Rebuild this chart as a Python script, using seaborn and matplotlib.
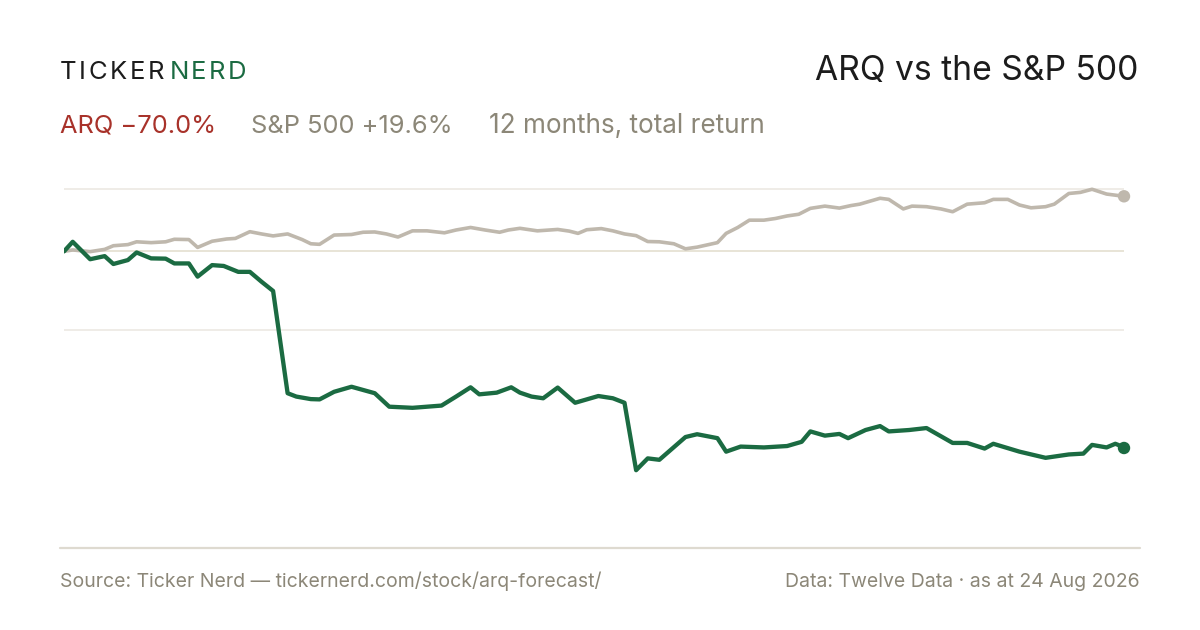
import matplotlib
matplotlib.use("Agg")
import matplotlib.pyplot as plt
from matplotlib.lines import Line2D
import numpy as np
import pandas as pd
import seaborn as sns

# 12 month total return, % change from the start date
start_date = pd.Timestamp("2025-08-24")
end_date = pd.Timestamp("2026-08-24")

arq_days = [0, 3, 9, 14, 17, 22, 25, 30, 35, 38,
            43, 46, 51, 55, 60, 64, 68, 72, 77, 80,
            85, 88, 93, 99, 107, 112, 120, 130, 135, 140,
            143, 149, 154, 157, 161, 165, 170, 176, 184, 189,
            193, 197, 201, 205, 214, 218, 225, 228, 233, 241,
            249, 254, 257, 262, 267, 270, 276, 281, 284, 291,
            297, 306, 311, 317, 320, 329, 338, 346, 351, 354,
            359, 362, 363, 365]
arq_return = [0, 3.4, -2.8, -1.7, -4.5, -3.1, -0.4, -2.5, -2.6, -4.3,
              -4.3, -9.0, -4.9, -5.2, -7.3, -7.3, -10.8, -14.1, -50.5, -51.7,
              -52.6, -52.7, -50.0, -48.2, -50.5, -55.3, -55.7, -54.9, -51.7, -48.4,
              -50.9, -50.3, -48.4, -50.3, -51.7, -52.3, -48.5, -53.9, -51.5, -52.3,
              -53.9, -77.9, -73.7, -74.2, -66.1, -65.1, -66.5, -71.3, -69.5, -69.8,
              -69.3, -67.8, -64.1, -65.6, -65.0, -66.5, -63.6, -62.2, -64.1, -63.6,
              -62.9, -68.2, -68.2, -70.2, -68.5, -71.3, -73.5, -72.3, -72.0, -68.9,
              -69.8, -68.5, -68.9, -70.0]

spx_days = [0, 3, 9, 14, 17, 22, 25, 30, 35, 38,
            43, 46, 51, 56, 59, 64, 68, 72, 77, 82,
            85, 88, 93, 99, 103, 107, 111, 115, 120, 125,
            131, 135, 140, 145, 150, 153, 157, 163, 170, 174,
            177, 180, 185, 189, 193, 197, 201, 205, 210, 214,
            218, 225, 228, 232, 236, 241, 245, 249, 253, 257,
            262, 267, 271, 274, 281, 284, 289, 292, 297, 302,
            306, 311, 317, 320, 325, 329, 333, 338, 341, 346,
            350, 354, 359, 365]
spx_return = [0, 0.5, -0.1, 0.7, 2.0, 2.4, 3.4, 3.1, 3.4, 4.3,
              4.2, 1.4, 3.6, 4.4, 4.6, 7.0, 6.2, 5.5, 6.2, 4.2,
              2.7, 2.5, 5.8, 6.0, 6.8, 6.9, 6.2, 5.1, 7.3, 7.3,
              6.6, 7.6, 8.5, 7.6, 6.8, 7.6, 8.2, 7.3, 7.8, 7.2,
              6.4, 7.7, 8.1, 7.3, 6.2, 5.6, 3.5, 3.4, 2.7, 0.9,
              1.5, 3.1, 6.4, 8.5, 11.1, 11.1, 11.7, 12.6, 13.2, 15.3,
              16.1, 15.4, 16.3, 16.8, 18.9, 18.5, 15.1, 16.1, 15.9, 15.1,
              14.1, 16.8, 17.3, 18.5, 18.5, 16.5, 15.5, 15.9, 16.8, 20.6,
              21.0, 22.1, 20.4, 19.6]

grid_levels = [22.1, -28.0]

GREEN = "#1b6b42"
SAND = "#bfb8ad"
RED = "#a8322a"
GREY = "#8c8778"
INK = "#1c1c1c"

arq = pd.DataFrame({"date": start_date + pd.to_timedelta(arq_days, unit="D"),
                    "ret": arq_return})
spx = pd.DataFrame({"date": start_date + pd.to_timedelta(spx_days, unit="D"),
                    "ret": spx_return})

sns.set_theme(style="white")
plt.rcParams["font.family"] = ["Inter", "DejaVu Sans"]

W, H = 1200, 630
fig = plt.figure(figsize=(W / 100, H / 100), dpi=100)
fig.patch.set_facecolor("white")

# plot area in pixels: x 64..1124, y 180..548
ax = fig.add_axes([64 / W, 1 - 548 / H, 1060 / W, 368 / H])
ax.set_facecolor("none")

for g in grid_levels:
    ax.axhline(g, color="#ece9e3", lw=1.2, zorder=0)
ax.axhline(0, color="#e4dfd0", lw=1.2, zorder=0)

sns.lineplot(data=spx, x="date", y="ret", ax=ax, color=SAND, lw=2.6,
             solid_joinstyle="round", solid_capstyle="round", zorder=2)
sns.lineplot(data=arq, x="date", y="ret", ax=ax, color=GREEN, lw=3.1,
             solid_joinstyle="round", solid_capstyle="round", zorder=3)
sns.scatterplot(data=spx.tail(1), x="date", y="ret", ax=ax, color=SAND, s=80,
                edgecolor="none", zorder=4, clip_on=False)
sns.scatterplot(data=arq.tail(1), x="date", y="ret", ax=ax, color=GREEN, s=80,
                edgecolor="none", zorder=5, clip_on=False)

ax.set_xlim(start_date, end_date)
ax.set_ylim(-105.6, 25.4)
ax.set_xlabel("")
ax.set_ylabel("")
ax.set_xticks([])
ax.set_yticks([])
for s in ax.spines.values():
    s.set_visible(False)

# bottom rule
fig.add_artist(Line2D([60 / W, 1140 / W], [1 - 548 / H] * 2, color="#dedad0", lw=1.6))


def px(x, y):
    return x / W, 1 - y / H


renderer = fig.canvas.get_renderer()


def spaced(x, y, s, gap, **kw):
    # matplotlib has no letter spacing, so place one glyph at a time
    for ch in s:
        t = fig.text(*px(x, y), ch, **kw)
        x += t.get_window_extent(renderer).width + gap
    return x


# logo
xe = spaced(60, 79, "TICKER", 2.5, fontsize=18.5, color=INK, va="baseline")
spaced(xe + 3, 79, "NERD", 2.5, fontsize=18.5, color=GREEN, va="baseline")

fig.text(*px(1138, 80), "ARQ vs the S&P 500", fontsize=24.2, color=INK,
         ha="right", va="baseline")

fig.text(*px(60, 133), "ARQ \u221270.0%", fontsize=18.3, color=RED, va="baseline")
fig.text(*px(251, 133), "S&P 500 +19.6%", fontsize=18.3, color=GREY, va="baseline")
fig.text(*px(489, 133), "12 months, total return", fontsize=18.8, color=GREY, va="baseline")

fig.text(*px(60, 587), "Source: Ticker Nerd \u2014 tickernerd.com/stock/arq-forecast/",
         fontsize=14, color=GREY, va="baseline")
fig.text(*px(1140, 587), "Data: Twelve Data \u00b7 as at 24 Aug 2026",
         fontsize=14, color=GREY, ha="right", va="baseline")

fig.savefig("out.png", dpi=100, facecolor="white")
